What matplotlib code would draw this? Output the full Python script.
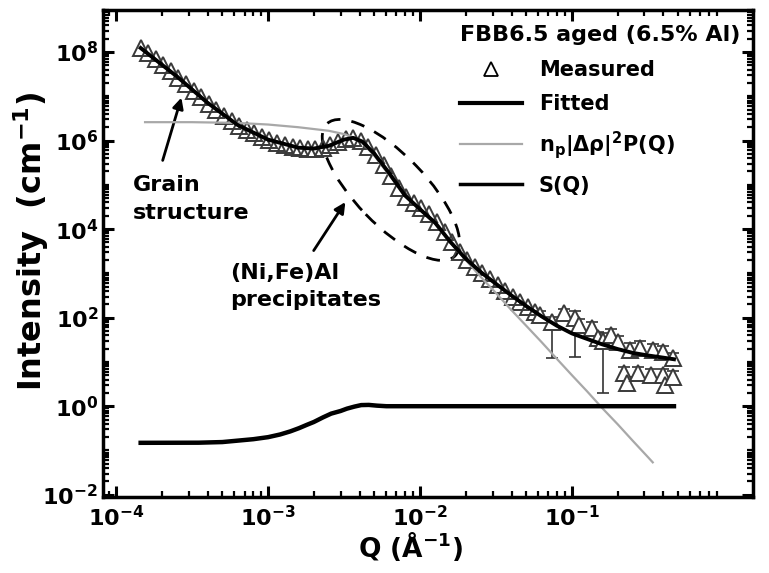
import numpy as np
import matplotlib
matplotlib.use('Agg')
import matplotlib.pyplot as plt
import matplotlib.transforms as mtransforms
from matplotlib.patches import Ellipse
from matplotlib.lines import Line2D
from matplotlib.ticker import FixedLocator, LogLocator, FuncFormatter, NullFormatter

plt.rcParams['font.family'] = 'DejaVu Sans'
plt.rcParams['font.weight'] = 'bold'
plt.rcParams['mathtext.fontset'] = 'dejavusans'

# measured SAXS/USAXS data (open triangles)
meas_q = [1.45e-4, 1.62e-4, 1.82e-4, 2.04e-4, 2.29e-4, 2.57e-4, 2.88e-4, 3.24e-4,
          3.63e-4, 4.07e-4, 4.57e-4, 5.13e-4, 5.75e-4, 6.46e-4, 7.24e-4, 8.13e-4,
          9.12e-4, 1.02e-3, 1.15e-3, 1.29e-3, 1.45e-3, 1.62e-3, 1.82e-3, 2.04e-3,
          2.29e-3, 2.57e-3, 2.88e-3, 3.24e-3, 3.63e-3, 4.07e-3, 4.57e-3, 5.13e-3,
          5.75e-3, 6.46e-3, 7.24e-3, 8.13e-3, 9.12e-3, 1.02e-2, 1.15e-2, 1.29e-2,
          1.45e-2, 1.62e-2, 1.82e-2, 2.04e-2, 2.29e-2, 2.57e-2, 2.88e-2, 3.24e-2,
          3.63e-2, 4.07e-2, 4.57e-2, 5.13e-2, 5.75e-2]
meas_i = [1.23e8, 9.5e7, 7.1e7, 5.2e7, 3.7e7, 2.6e7, 1.86e7, 1.32e7,
          9.5e6, 6.8e6, 4.8e6, 3.5e6, 2.7e6, 2.1e6, 1.74e6, 1.45e6,
          1.20e6, 1.02e6, 8.9e5, 7.9e5, 7.2e5, 6.8e5, 6.6e5, 6.6e5,
          6.9e5, 7.8e5, 9.1e5, 1.07e6, 1.15e6, 1.0e6, 7.1e5, 4.7e5,
          2.8e5, 1.58e5, 8.3e4, 5.2e4, 3.8e4, 2.95e4, 2.24e4, 1.48e4,
          8.7e3, 5.0e3, 3.0e3, 2.0e3, 1.38e3, 1.0e3, 7.4e2, 5.4e2,
          4.0e2, 2.95e2, 2.24e2, 1.74e2, 1.32e2]

# noisy high-Q part of the measurement with error bars
hq_q = [0.062, 0.074, 0.089, 0.105, 0.112, 0.135, 0.148, 0.160, 0.18, 0.20, 0.22,
        0.23, 0.24, 0.27, 0.28, 0.33, 0.34, 0.40, 0.40, 0.41, 0.46, 0.46]
hq_i = [115, 81, 129, 100, 69, 59, 35, 30, 41, 28, 5.6,
        3.4, 19, 5.6, 21, 5.1, 19, 17, 5.1, 3.0, 12, 4.6]
hq_lo = [20, 69, 25, 87, 20, 15, 10, 28, 12, 8, 1.5,
         1.0, 6, 1.5, 6, 1.5, 5, 5, 1.5, 1.0, 3, 1.2]
hq_hi = [30, 25, 30, 40, 25, 20, 12, 15, 15, 10, 2.0,
         1.2, 8, 2.0, 8, 2.0, 7, 6, 2.0, 1.0, 4, 1.5]

# fitted total intensity
fit_q = [1.45e-4, 2.51e-4, 3.98e-4, 6.31e-4, 1.0e-3, 1.58e-3, 2.0e-3, 2.51e-3,
         3.16e-3, 3.63e-3, 4.17e-3, 5.01e-3, 6.31e-3, 7.94e-3, 1.0e-2, 1.26e-2,
         1.58e-2, 2.0e-2, 2.51e-2, 3.16e-2, 3.98e-2, 5.01e-2, 6.31e-2, 7.94e-2,
         0.1, 0.126, 0.158, 0.2, 0.251, 0.316, 0.398, 0.469]
fit_i = [1.23e8, 2.8e7, 7.2e6, 2.24e6, 1.05e6, 6.9e5, 6.6e5, 7.6e5,
         1.05e6, 1.15e6, 9.5e5, 5.0e5, 1.78e5, 5.8e4, 2.8e4, 1.38e4,
         5.2e3, 2.14e3, 1.07e3, 5.8e2, 3.2e2, 1.82e2, 1.07e2, 6.6e1,
         4.4e1, 3.3e1, 2.5e1, 1.95e1, 1.6e1, 1.4e1, 1.25e1, 1.15e1]

# form factor term n_p |drho|^2 P(Q)
pq_q = [1.55e-4, 3.16e-4, 6.31e-4, 1.0e-3, 1.58e-3, 2.51e-3, 3.16e-3, 3.98e-3,
        5.01e-3, 6.31e-3, 7.94e-3, 1.0e-2, 1.26e-2, 1.58e-2, 2.0e-2, 2.51e-2,
        3.16e-2, 3.98e-2, 5.01e-2, 6.31e-2, 7.94e-2, 0.1, 0.126, 0.158,
        0.2, 0.251, 0.316, 0.34]
pq_i = [2.6e6, 2.6e6, 2.5e6, 2.3e6, 2.0e6, 1.66e6, 1.4e6, 1.05e6,
        4.5e5, 1.6e5, 6.0e4, 2.8e4, 1.3e4, 5.0e3, 2.0e3, 8.3e2,
        3.6e2, 1.5e2, 6.5e1, 2.8e1, 1.18e1, 5.0, 2.15, 0.91,
        0.39, 0.166, 0.071, 0.054]

# structure factor S(Q)
sq_q = [1.45e-4, 3.5e-4, 5.0e-4, 8.0e-4, 1.0e-3, 1.2e-3, 1.4e-3, 1.6e-3,
        1.8e-3, 2.0e-3, 2.3e-3, 2.6e-3, 3.0e-3, 3.3e-3, 3.7e-3, 4.1e-3,
        4.6e-3, 5.2e-3, 6.0e-3, 0.469]
sq_i = [0.149, 0.15, 0.155, 0.18, 0.2, 0.23, 0.27, 0.32,
        0.38, 0.44, 0.56, 0.68, 0.78, 0.88, 0.98, 1.06,
        1.07, 1.03, 1.0, 1.0]

fig = plt.figure(figsize=(7.69, 5.73), dpi=100)
ax = fig.add_axes([0.134, 0.133, 0.845, 0.850])

ax.errorbar(hq_q, hq_i, yerr=[hq_lo, hq_hi], fmt='none', ecolor='#333333',
            elinewidth=1.2, capsize=4, capthick=1.2, zorder=2)
ax.plot(meas_q, meas_i, '^', mfc='none', mec='#3a3a3a', ms=11, mew=1.4, zorder=3)
ax.plot(hq_q, hq_i, '^', mfc='white', mec='#3a3a3a', ms=11, mew=1.4, zorder=3)
ax.plot(pq_q, pq_i, color='#a8a8a8', lw=1.6, zorder=4)
ax.plot(fit_q, fit_i, color='black', lw=2.8, zorder=5)
ax.plot(sq_q, sq_i, color='black', lw=3.2, zorder=5)

ax.set_xscale('log')
ax.set_yscale('log')
ax.set_xlim(8.2e-5, 1.55)
ax.set_ylim(9e-3, 9e8)

fmt = FuncFormatter(lambda v, p: r'$\mathbf{10^{%d}}$' % round(np.log10(v)))
ax.xaxis.set_major_locator(FixedLocator([1e-4, 1e-3, 1e-2, 1e-1]))
ax.xaxis.set_major_formatter(fmt)
ax.xaxis.set_minor_locator(LogLocator(base=10, subs=np.arange(2, 10), numticks=20))
ax.xaxis.set_minor_formatter(NullFormatter())
ax.yaxis.set_major_locator(FixedLocator([1e-2, 1e0, 1e2, 1e4, 1e6, 1e8]))
ax.yaxis.set_major_formatter(fmt)
ax.yaxis.set_minor_locator(LogLocator(base=10, subs=np.arange(1, 10), numticks=30))
ax.yaxis.set_minor_formatter(NullFormatter())

ax.tick_params(which='both', direction='in', top=True, right=True, labelsize=16)
ax.tick_params(which='major', length=8, width=2.2)
ax.tick_params(which='minor', length=4, width=1.6)
ax.tick_params(axis='x', which='major', pad=6)
for s in ax.spines.values():
    s.set_linewidth(2.5)

ax.set_xlabel(r'Q (Å$^{\mathbf{-1}}$)', fontsize=19, fontweight='bold')
ax.set_ylabel(r'Intensity  (cm$^{\mathbf{-1}}$)', fontsize=23, fontweight='bold')
ax.xaxis.set_label_coords(0.473, -0.068)
ax.yaxis.set_label_coords(-0.08, 0.525)

# annotations
ax.annotate('', xy=(2.72e-4, 1.07e7), xytext=(2.0e-4, 3.1e5),
            arrowprops=dict(arrowstyle='-|>', lw=2, color='black', mutation_scale=16))
ax.text(1.29e-4, 4.8e4, 'Grain\nstructure', fontsize=16, fontweight='bold',
        ha='left', va='center', linespacing=1.45)
ax.annotate('', xy=(3.3e-3, 4.6e4), xytext=(1.95e-3, 2.9e3),
            arrowprops=dict(arrowstyle='-|>', lw=2, color='black', mutation_scale=16))
ax.text(5.6e-4, 5.0e2, '(Ni,Fe)Al\nprecipitates', fontsize=16, fontweight='bold',
        ha='left', va='center', linespacing=1.45)

ell_tr = fig.dpi_scale_trans + mtransforms.ScaledTranslation(0.443, 0.630, ax.transAxes)
ax.add_patch(Ellipse((0, 0), width=1.84, height=0.70, angle=-46, transform=ell_tr,
                     fill=False, ec='black', lw=2, ls=(0, (5, 4))))

handles = [Line2D([], [], ls='none', marker='^', mfc='none', mec='black', ms=10, mew=1.3),
           Line2D([], [], color='black', lw=3),
           Line2D([], [], color='#a8a8a8', lw=1.6),
           Line2D([], [], color='black', lw=2.5)]
labels = ['Measured', 'Fitted', r'n$_{\mathbf{p}}$|Δρ|$^{\mathbf{2}}$P(Q)', 'S(Q)']
leg = ax.legend(handles, labels, title='FBB6.5 aged (6.5% Al)', loc='upper left',
                bbox_to_anchor=(0.549, 0.968), frameon=False, alignment='left',
                fontsize=15, title_fontproperties={'weight': 'bold', 'size': 16},
                handlelength=3.0, handletextpad=0.8, labelspacing=0.7,
                borderpad=0, borderaxespad=0)

fig.savefig('out.png', dpi=100)
